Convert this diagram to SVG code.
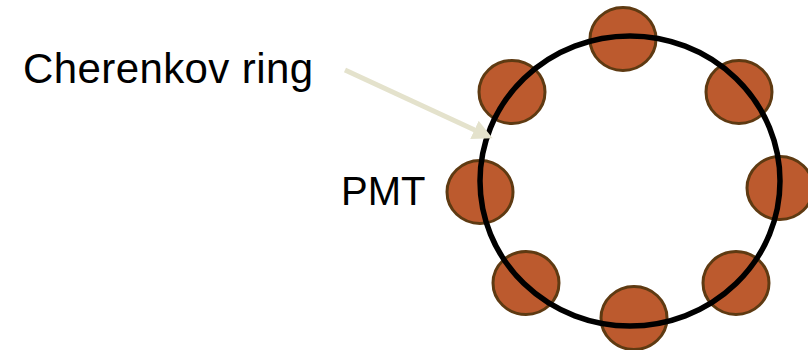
<svg xmlns="http://www.w3.org/2000/svg" width="808" height="350" viewBox="0 0 808 350">
<style>
.pmt{fill:#bc5a2e;stroke:#5e3a12;stroke-width:3}
.lbl{font-family:"Liberation Sans",Arial,sans-serif;fill:#000}
</style>
<defs>
<marker id="ah" markerWidth="4" markerHeight="4" refX="1" refY="2" orient="auto" markerUnits="strokeWidth" viewBox="0 0 4 4">
<path d="M0,0 L4,2 L0,4 Z" fill="#e4e2cc"/>
</marker>
</defs>
<rect width="808" height="350" fill="#fff"/>
<g id="pmts">
<g id="pmt-top"><ellipse class="pmt" cx="623" cy="39" rx="33" ry="31.5"/></g>
<g id="pmt-upper-left"><ellipse class="pmt" cx="512" cy="92" rx="33" ry="31.5"/></g>
<g id="pmt-upper-right"><ellipse class="pmt" cx="739" cy="92" rx="33" ry="31.5"/></g>
<g id="pmt-left"><ellipse class="pmt" cx="480" cy="192" rx="33" ry="31.5"/></g>
<g id="pmt-right"><ellipse class="pmt" cx="780" cy="188" rx="33" ry="31.5"/></g>
<g id="pmt-lower-left"><ellipse class="pmt" cx="526" cy="283" rx="33" ry="31.5"/></g>
<g id="pmt-lower-right"><ellipse class="pmt" cx="736" cy="283" rx="33" ry="31.5"/></g>
<g id="pmt-bottom"><ellipse class="pmt" cx="634" cy="318" rx="33" ry="31.5"/></g>
</g>
<g id="ring"><ellipse cx="630" cy="181" rx="150" ry="145" fill="none" stroke="#000" stroke-width="5.5"/></g>
<g id="connectors">
<line x1="345" y1="70" x2="479" y2="132" stroke="#e4e2cc" stroke-width="5" marker-end="url(#ah)"/>
</g>
<g id="labels">
<text class="lbl" x="23" y="83" font-size="42" textLength="290" lengthAdjust="spacing">Cherenkov ring</text>
<text class="lbl" x="341" y="205" font-size="40">PMT</text>
</g>
</svg>
